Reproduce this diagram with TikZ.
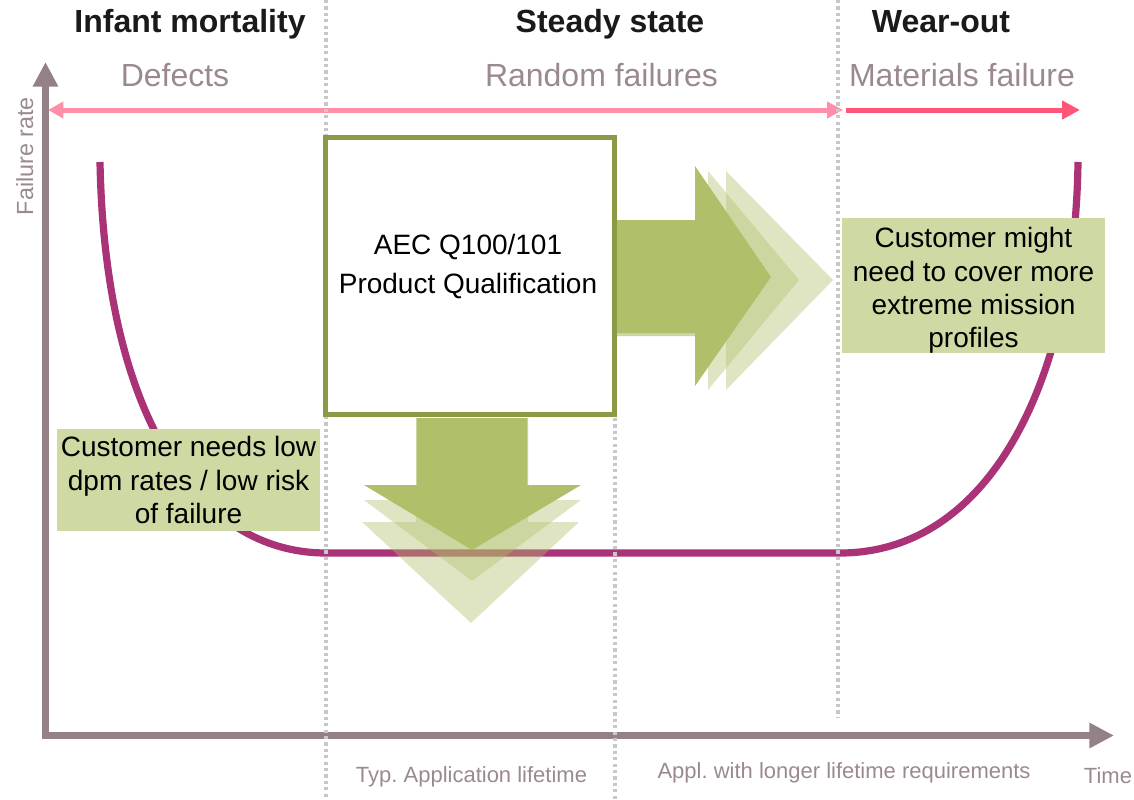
\documentclass[tikz,border=0pt]{standalone}
\usepackage{fontspec}
\setmainfont{Liberation Sans}
\usetikzlibrary{arrows.meta}
\definecolor{axisgray}{HTML}{948185}
\definecolor{labgray}{HTML}{9B8A8D}
\definecolor{titleblk}{HTML}{1A1A1A}
\definecolor{pinkl}{HTML}{FF8FA8}
\definecolor{pinkd}{HTML}{FF5577}
\definecolor{curvec}{HTML}{AA3377}
\definecolor{olive}{HTML}{8B9B45}
\definecolor{arrowg}{HTML}{AFBF6A}
\definecolor{boxg}{HTML}{CFD9A3}
\definecolor{dotg}{HTML}{C8C8C8}
\frenchspacing
\begin{document}
\begin{tikzpicture}[x=0.75pt,y=-0.75pt,
  titletxt/.style={anchor=base, text=titleblk, font=\fontsize{24}{28}\selectfont\bfseries, inner sep=0},
  phasetxt/.style={anchor=base, text=labgray, font=\fontsize{24}{28}\selectfont, inner sep=0},
  axlabel/.style={anchor=base, text=labgray, font=\fontsize{16.5}{19}\selectfont, inner sep=0},
  greenbox/.style={fill=boxg, inner sep=0, minimum width=197.25pt, align=center, font=\fontsize{21}{25}\selectfont, text=black},
  boxtext/.style={align=center, font=\fontsize{21}{25.1}\selectfont, text=black, inner sep=0},
  dotline/.style={dotg, line width=2.6pt, dash pattern=on 2.4pt off 2.4pt},
  axisline/.style={axisgray, line width=5.25pt, -{Triangle[length=18.5pt,width=18pt]}},
  blockarrow/.style={fill=arrowg},
  ghostarrow/.style={fill=arrowg, fill opacity=0.4},
]
\useasboundingbox (0,0) rectangle (1134,799);

% coordinates
\coordinate (yaxbot) at (45.5,739);
\coordinate (yaxtop) at (45.5,62);
\coordinate (xaxleft) at (42,735.5);
\coordinate (xaxright) at (1114,735.5);
\coordinate (pinkleft) at (48,110);
\coordinate (pinkmid) at (843,110);
\coordinate (pinkmid2) at (846,110);
\coordinate (pinkright) at (1080,110);

% bathtub curve
\draw[curvec, line width=5.4pt] (100,162) .. controls (105,420) and (200,553) .. (326,553)
   -- (840,553) .. controls (990,553) and (1075,380) .. (1078,162);

% axes
\draw[axisline] (yaxbot) -- (yaxtop);
\draw[axisline] (xaxleft) -- (xaxright);

% pink range arrows
\draw[pinkl, line width=3.75pt, {Triangle[length=11.5pt,width=12pt]}-{Triangle[length=12pt,width=12pt]}] (pinkleft) -- (pinkmid);
\draw[pinkd, line width=3.75pt, -{Triangle[length=13.5pt,width=13.5pt]}] (pinkmid2) -- (pinkright);

% dotted separators
\draw[dotline] (326,0) -- (326,799);
\draw[dotline] (615,418) -- (615,799);
\draw[dotline] (838,0) -- (838,718);

% right block arrows
\fill[ghostarrow] (617,221) -- (726,221) -- (726,171) -- (833,280) -- (726,390) -- (726,336) -- (617,336) -- cycle;
\fill[ghostarrow] (617,221) -- (708,221) -- (708,171) -- (799,280) -- (708,390) -- (708,336) -- (617,336) -- cycle;
\fill[blockarrow] (617,220) -- (695,220) -- (695,166) -- (771,277) -- (695,386) -- (695,333) -- (617,333) -- cycle;

% down block arrows
\fill[ghostarrow] (416,418) -- (528,418) -- (528,522) -- (579,522) -- (471,623) -- (362,522) -- (416,522) -- cycle;
\fill[ghostarrow] (416,418) -- (528,418) -- (528,500) -- (581,500) -- (472,581) -- (364,500) -- (416,500) -- cycle;
\fill[blockarrow] (417,418) -- (527,418) -- (527,485) -- (581,485) -- (472,550) -- (364,485) -- (417,485) -- cycle;

% qualification box
\node[draw=olive, line width=3.75pt, fill=white, inner sep=0, minimum width=216.75pt, minimum height=207.75pt] (qbox) at (470,276) {};
\node[align=center, font=\fontsize{21}{29.25}\selectfont, text=black, inner sep=0] (qtext) at (468,266) {AEC Q100/101\\Product Qualification};

% customer boxes
\node[greenbox, minimum height=76.5pt] (custlow) at (188.5,480) {Customer needs low\\dpm rates / low risk\\of failure};
\node[greenbox, minimum height=101.25pt] (custext) at (973.5,285.5) {};
\node[boxtext] (custexttxt) at (973.5,290.5) {Customer might\\need to cover more\\extreme mission\\profiles};

% titles
\node[titletxt] (t1) at (190,33) {Infant mortality};
\node[titletxt] (t2) at (610,33) {Steady state};
\node[titletxt] (t3) at (941,33) {Wear-out};
\node[phasetxt] (p1) at (175,86) {Defects};
\node[phasetxt] (p2) at (601.5,86) {Random failures};
\node[phasetxt] (p3) at (962,86) {Materials failure};

% axis labels
\node[axlabel, font=\fontsize{17.5}{20}\selectfont, rotate=90] (ylab) at (33,156) {Failure rate};
\node[axlabel] (typ) at (471.5,782) {Typ. Application lifetime};
\node[axlabel] (appl) at (844,778) {Appl. with longer lifetime requirements};
\node[axlabel] (time) at (1108,783) {Time};
\end{tikzpicture}
\end{document}
